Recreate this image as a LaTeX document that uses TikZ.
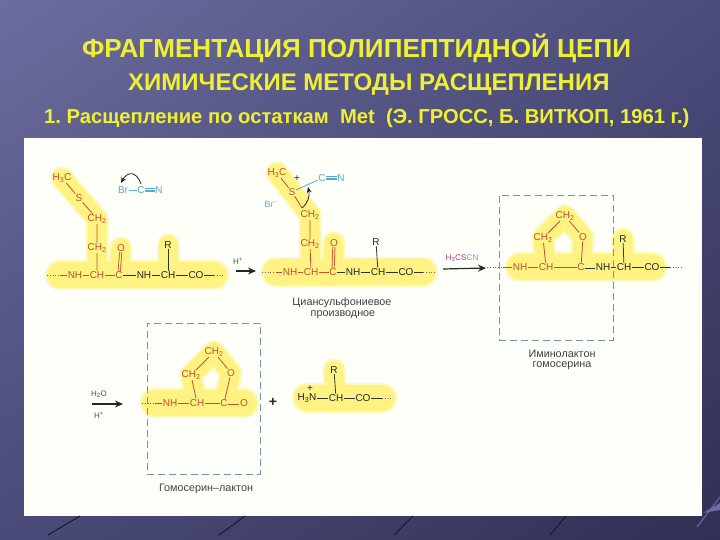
\documentclass[tikz,border=0pt]{standalone}
\usepackage{fontspec}
\setmainfont{Liberation Sans}
\usetikzlibrary{backgrounds,shadings,arrows.meta}
\definecolor{titley}{RGB}{240,240,50}
\definecolor{atomred}{RGB}{190,80,46}
\definecolor{atomblue}{RGB}{88,170,205}
\definecolor{glowy}{RGB}{254,243,130}
\definecolor{glowp}{RGB}{255,249,185}
\definecolor{boxblue}{RGB}{110,150,175}
\definecolor{slideul}{RGB}{108,108,158}
\definecolor{slideur}{RGB}{76,76,124}
\definecolor{slidell}{RGB}{74,74,120}
\definecolor{slidelr}{RGB}{48,48,84}
\tikzset{titletext/.style = {anchor=west, inner sep=0pt, text=titley, font=\bfseries},
         atom/.style={inner sep=0.6pt, font=\fontsize{10}{10}\selectfont, text=black!85},
         ratom/.style={atom, text=atomred},
         batom/.style={atom, text=atomblue},
         bond/.style={line width=0.8pt, black!80},
         rbond/.style={line width=0.8pt, atomred},
         bbond/.style={line width=0.8pt, atomblue},
         dots/.style={line width=0.8pt, black!60, dotted},
         react/.style={-{Stealth[length=8pt,width=7pt]}, line width=1.2pt, black!85},
         curve/.style={-{Stealth[length=6pt,width=5pt]}, line width=0.8pt, black!85},
         note/.style={inner sep=0pt, font=\fontsize{10.8}{10.8}\selectfont, text=black!75},
         small/.style={inner sep=0pt, font=\fontsize{8}{8}\selectfont, text=black!70},
         dashbox/.style={draw=boxblue, line width=0.9pt, dash pattern=on 7pt off 4pt, inner sep=0pt},
         glow/.style={glowy, line width=26pt, line cap=round, line join=round},
         halo/.style={glowp, line width=30pt, line cap=round, line join=round},
         nglow/.style={glow, line width=19pt},
         nhalo/.style={halo, line width=23pt},
         streak/.style={line width=1pt, slidelr!50!black}}

\begin{document}
\frenchspacing
\begin{tikzpicture}[x=1pt,y=-1pt]
    \useasboundingbox(0,0)rectangle(720,540);
    % slide
    \begin{scope}[on background layer]
        \shade[upper left=slideul,upper right=slideur,lower left=slidell,lower right=slidelr](0,0)rectangle(720,540);
        \fill[white!98!yellow](24,138)rectangle(702,516);
    \end{scope}
    \draw[streak](48,535)--(80,516);
    \draw[streak](219,535)--(245,516);
    \draw[streak](394,535)--(413,516);
    \draw[streak](550,535)--(566,516);
    \draw[streak,slideul](697,527)--(720,497);
    \fill[slideul](703,513)--(720,503)--(720,510)--cycle;
    \node[titletext,font=\bfseries\fontsize{26.1}{26}\selectfont](tone)at(82,48){ФРАГМЕНТАЦИЯ ПОЛИПЕПТИДНОЙ ЦЕПИ};
    \node[titletext,font=\bfseries\fontsize{24}{24}\selectfont](ttwo)at(128,85){ХИМИЧЕСКИЕ МЕТОДЫ РАСЩЕПЛЕНИЯ};
    \node[titletext,font=\bfseries\fontsize{20.2}{20}\selectfont](tthree)at(44,118){1. Расщепление по остаткам\ \ Met\ \ (Э. ГРОСС, Б. ВИТКОП, 1961 г.)};

    % first molecule
    \node[ratom](m1hc)at(62,178){H\textsubscript{3}C};
    \node[ratom](m1s)at(79,198){S};
    \node[ratom](m1cha)at(97,219){CH\textsubscript{2}};
    \node[ratom](m1chb)at(97,248){CH\textsubscript{2}};
    \node[ratom](m1o)at(121,248){O};
    \node[ratom](m1nh)at(75,275){NH};
    \node[ratom](m1ch)at(97,275){CH};
    \node[ratom](m1c)at(119,275){C};
    \node[atom](m1nhb)at(144,275){NH};
    \node[atom](m1chc)at(168,275){CH};
    \node[atom](m1co)at(196,275){CO};
    \node[atom](m1r)at(168,245){R};
    \coordinate(m1l)at(47,275);
    \coordinate(m1ld)at(60,275);
    \coordinate(m1rd)at(214,275);
    \coordinate(m1e)at(225,275);
    \draw[dots](m1l)--(m1ld);
    \draw[rbond](m1ld)--(m1nh);
    \draw[rbond](m1hc)--(m1s)--(m1cha)--(m1chb)--(m1ch);
    \draw[rbond](m1nh)--(m1ch)--(m1c);
    \draw[bond](m1c)--(m1nhb)--(m1chc)--(m1co)--(m1rd);
    \draw[dots](m1rd)--(m1e);
    \draw[bond](m1r)--(m1chc);
    \draw[rbond,double=glowy,double distance=1.4pt](m1o)--(m1c);
    \node[batom](brb)at(123,190){Br};
    \node[batom](brc)at(141,190){C};
    \node[batom](brn)at(159,190){N};
    \draw[bbond](brb)--(brc);
    \draw[bbond,double,double distance=1.6pt](brc)--(brn);
    \draw[bbond](brc)--(brn);
    \coordinate(cua)at(141,184);
    \coordinate(cub)at(121,183);
    \draw[curve](cua)..controls(136,170)and(127,172)..(cub);
    \node[small](hpa)at(238,261){H\textsuperscript{+}};
    \coordinate(raa)at(236,271);
    \coordinate(rab)at(256,271);
    \draw[react](raa)--(rab);

    % cyanosulfonium
    \node[ratom](m2hc)at(277,173){H\textsubscript{3}C};
    \node[ratom](m2s)at(292,192){S};
    \node[atom](m2p)at(297,179){+};
    \node[batom](m2c)at(322,178){C};
    \node[batom](m2n)at(341,178){N};
    \node[batom,font=\fontsize{9}{9}\selectfont](m2br)at(271,204){Br\textsuperscript{--}};
    \node[ratom](m2cha)at(310,215){CH\textsubscript{2}};
    \node[ratom](m2chb)at(310,244){CH\textsubscript{2}};
    \node[ratom](m2o)at(334,243){O};
    \node[ratom](m2nh)at(290,272){NH};
    \node[ratom](m2ch)at(311,272){CH};
    \node[ratom](m2cc)at(333,272){C};
    \node[atom](m2nhb)at(353,272){NH};
    \node[atom](m2chc)at(378,272){CH};
    \node[atom](m2co)at(406,272){CO};
    \node[atom](m2r)at(376,242){R};
    \coordinate(m2l)at(262,272);
    \coordinate(m2ld)at(276,272);
    \coordinate(m2rd)at(423,272);
    \coordinate(m2e)at(435,272);
    \coordinate(m2cb)at(302,208);
    \coordinate(m2ca)at(308,187);
    \draw[dots](m2l)--(m2ld);
    \draw[rbond](m2ld)--(m2nh);
    \draw[rbond](m2hc)--(m2s);
    \draw[rbond](m2s)--(m2cb);
    \draw[rbond](m2cha)--(m2chb)--(m2ch);
    \draw[rbond](m2nh)--(m2ch)--(m2cc);
    \draw[bond](m2cc)--(m2nhb)--(m2chc)--(m2co)--(m2rd);
    \draw[dots](m2rd)--(m2e);
    \draw[bond](m2r)--(m2chc);
    \draw[rbond,double=glowy,double distance=1.4pt](m2o)--(m2cc);
    \draw[bbond](m2s)--(m2c);
    \draw[bbond,double,double distance=1.6pt](m2c)--(m2n);
    \draw[bbond](m2c)--(m2n);
    \draw[curve](m2cb)..controls(308,203)and(310,196)..(m2ca);
    \node[note](m2ta)at(342,303){Циансульфониевое};
    \node[note](m2tb)at(343,315){производное};
    \node[inner sep=0pt,font=\fontsize{8.2}{8.2}\selectfont,text=magenta!70!black](rbt)at(462,258){H\textsubscript{3}CS\textcolor{atomblue}{CN}};
    \coordinate(rba)at(443,269);
    \coordinate(rbb)at(486,268);
    \draw[react](rba)--(rbb);

    % iminolactone
    \node[dashbox,minimum width=114pt,minimum height=145pt](boxa)at(556,267.5){};
    \node[ratom](m3cha)at(565,216){CH\textsubscript{2}};
    \node[ratom](m3chb)at(543,238){CH\textsubscript{2}};
    \node[ratom](m3o)at(583,237){O};
    \node[ratom](m3nh)at(520,267){NH};
    \node[ratom](m3ch)at(546,267){CH};
    \node[ratom](m3c)at(581,267){C};
    \node[atom](m3nhb)at(603,267){NH};
    \node[atom](m3chc)at(624,267){CH};
    \node[atom](m3co)at(652,267){CO};
    \node[atom](m3r)at(623,239){R};
    \coordinate(m3l)at(487,267);
    \coordinate(m3ld)at(503,267);
    \coordinate(m3rd)at(670,267);
    \coordinate(m3e)at(682,267);
    \draw[dots](m3l)--(m3ld);
    \draw[rbond](m3ld)--(m3nh)--(m3ch)--(m3c);
    \draw[rbond](m3ch)--(m3chb)--(m3cha)--(m3o)--(m3c);
    \draw[bond,double=glowy,double distance=1.4pt](m3c)--(m3nhb);
    \draw[bond](m3nhb)--(m3chc)--(m3co)--(m3rd);
    \draw[dots](m3rd)--(m3e);
    \draw[bond](m3r)--(m3chc);
    \node[note](m3ta)at(562,354){Иминолактон};
    \node[note](m3tb)at(562,366){гомосерина};

    % homoserine lactone
    \node[small](rcu)at(99,394){H\textsubscript{2}O};
    \node[small](rcd)at(99,415){H\textsuperscript{+}};
    \coordinate(rca)at(92,404);
    \coordinate(rcb)at(123,404);
    \draw[react](rca)--(rcb);
    \node[dashbox,minimum width=113pt,minimum height=151pt](boxb)at(203.5,398.5){};
    \node[ratom](m4cha)at(214,352){CH\textsubscript{2}};
    \node[ratom](m4chb)at(191,375){CH\textsubscript{2}};
    \node[ratom](m4o)at(231,373){O};
    \node[ratom](m4nh)at(170,403){NH};
    \node[ratom](m4ch)at(197,403){CH};
    \node[ratom](m4c)at(224,403){C};
    \node[ratom](m4ob)at(244,403){O};
    \coordinate(m4l)at(142,403);
    \coordinate(m4ld)at(155,403);
    \draw[dots](m4l)--(m4ld);
    \draw[rbond](m4ld)--(m4nh)--(m4ch)--(m4c);
    \draw[rbond](m4ch)--(m4chb)--(m4cha)--(m4o)--(m4c);
    \draw[rbond,double=glowy,double distance=1.4pt](m4c)--(m4ob);
    \node[note](m4t)at(206,489){Гомосерин--лактон};
    \node[atom,font=\bfseries\fontsize{14}{14}\selectfont](plus)at(273,402){+};

    % free amine
    \node[atom](m5h)at(307,398){H\textsubscript{3}N};
    \node[atom](m5p)at(310,389){+};
    \node[atom](m5ch)at(336,398){CH};
    \node[atom](m5co)at(363,398){CO};
    \node[atom](m5r)at(334,370){R};
    \coordinate(m5rd)at(382,398);
    \coordinate(m5e)at(392,398);
    \draw[bond](m5h)--(m5ch)--(m5co)--(m5rd);
    \draw[dots](m5rd)--(m5e);
    \draw[bond](m5r)--(m5ch);

    % yellow marking
    \begin{scope}[on background layer]
        \draw[nhalo](m1hc.center)--(m1s.center)--(m1cha.center)--(m1ch.center);
        \draw[nhalo](m1o.center)--(m1c.center);
        \draw[nhalo](m1r.center)--(m1chc.center);
        \draw[halo](m1ld)--(m1rd);
        \draw[nhalo](m2hc.center)--(m2s.center)--(m2cha.center)--(m2ch.center);
        \draw[nhalo](m2o.center)--(m2cc.center);
        \draw[halo](m2ld)--(m2rd);
        \draw[nhalo](m3cha.center)--(m3chb.center)--(m3ch.center);
        \draw[nhalo](m3cha.center)--(m3o.center)--(m3c.center);
        \draw[nhalo](m3r.center)--(m3chc.center);
        \draw[halo](m3nh.center)--(m3co.center);
        \draw[nhalo](m4cha.center)--(m4chb.center)--(m4ch.center);
        \draw[nhalo](m4cha.center)--(m4o.center)--(m4c.center);
        \draw[halo](m4ld)--(m4ob.center);
        \draw[nhalo](m5r.center)--(m5ch.center);
        \draw[halo](m5h.center)--(m5rd);
        \draw[nglow](m1hc.center)--(m1s.center)--(m1cha.center)--(m1ch.center);
        \draw[nglow](m1o.center)--(m1c.center);
        \draw[nglow](m1r.center)--(m1chc.center);
        \draw[glow](m1ld)--(m1rd);
        \draw[nglow](m2hc.center)--(m2s.center)--(m2cha.center)--(m2ch.center);
        \draw[nglow](m2o.center)--(m2cc.center);
        \draw[glow](m2ld)--(m2rd);
        \draw[nglow](m3cha.center)--(m3chb.center)--(m3ch.center);
        \draw[nglow](m3cha.center)--(m3o.center)--(m3c.center);
        \draw[nglow](m3r.center)--(m3chc.center);
        \draw[glow](m3nh.center)--(m3co.center);
        \draw[nglow](m4cha.center)--(m4chb.center)--(m4ch.center);
        \draw[nglow](m4cha.center)--(m4o.center)--(m4c.center);
        \draw[glow](m4ld)--(m4ob.center);
        \draw[nglow](m5r.center)--(m5ch.center);
        \draw[glow](m5h.center)--(m5rd);
    \end{scope}
\end{tikzpicture}
\end{document}
